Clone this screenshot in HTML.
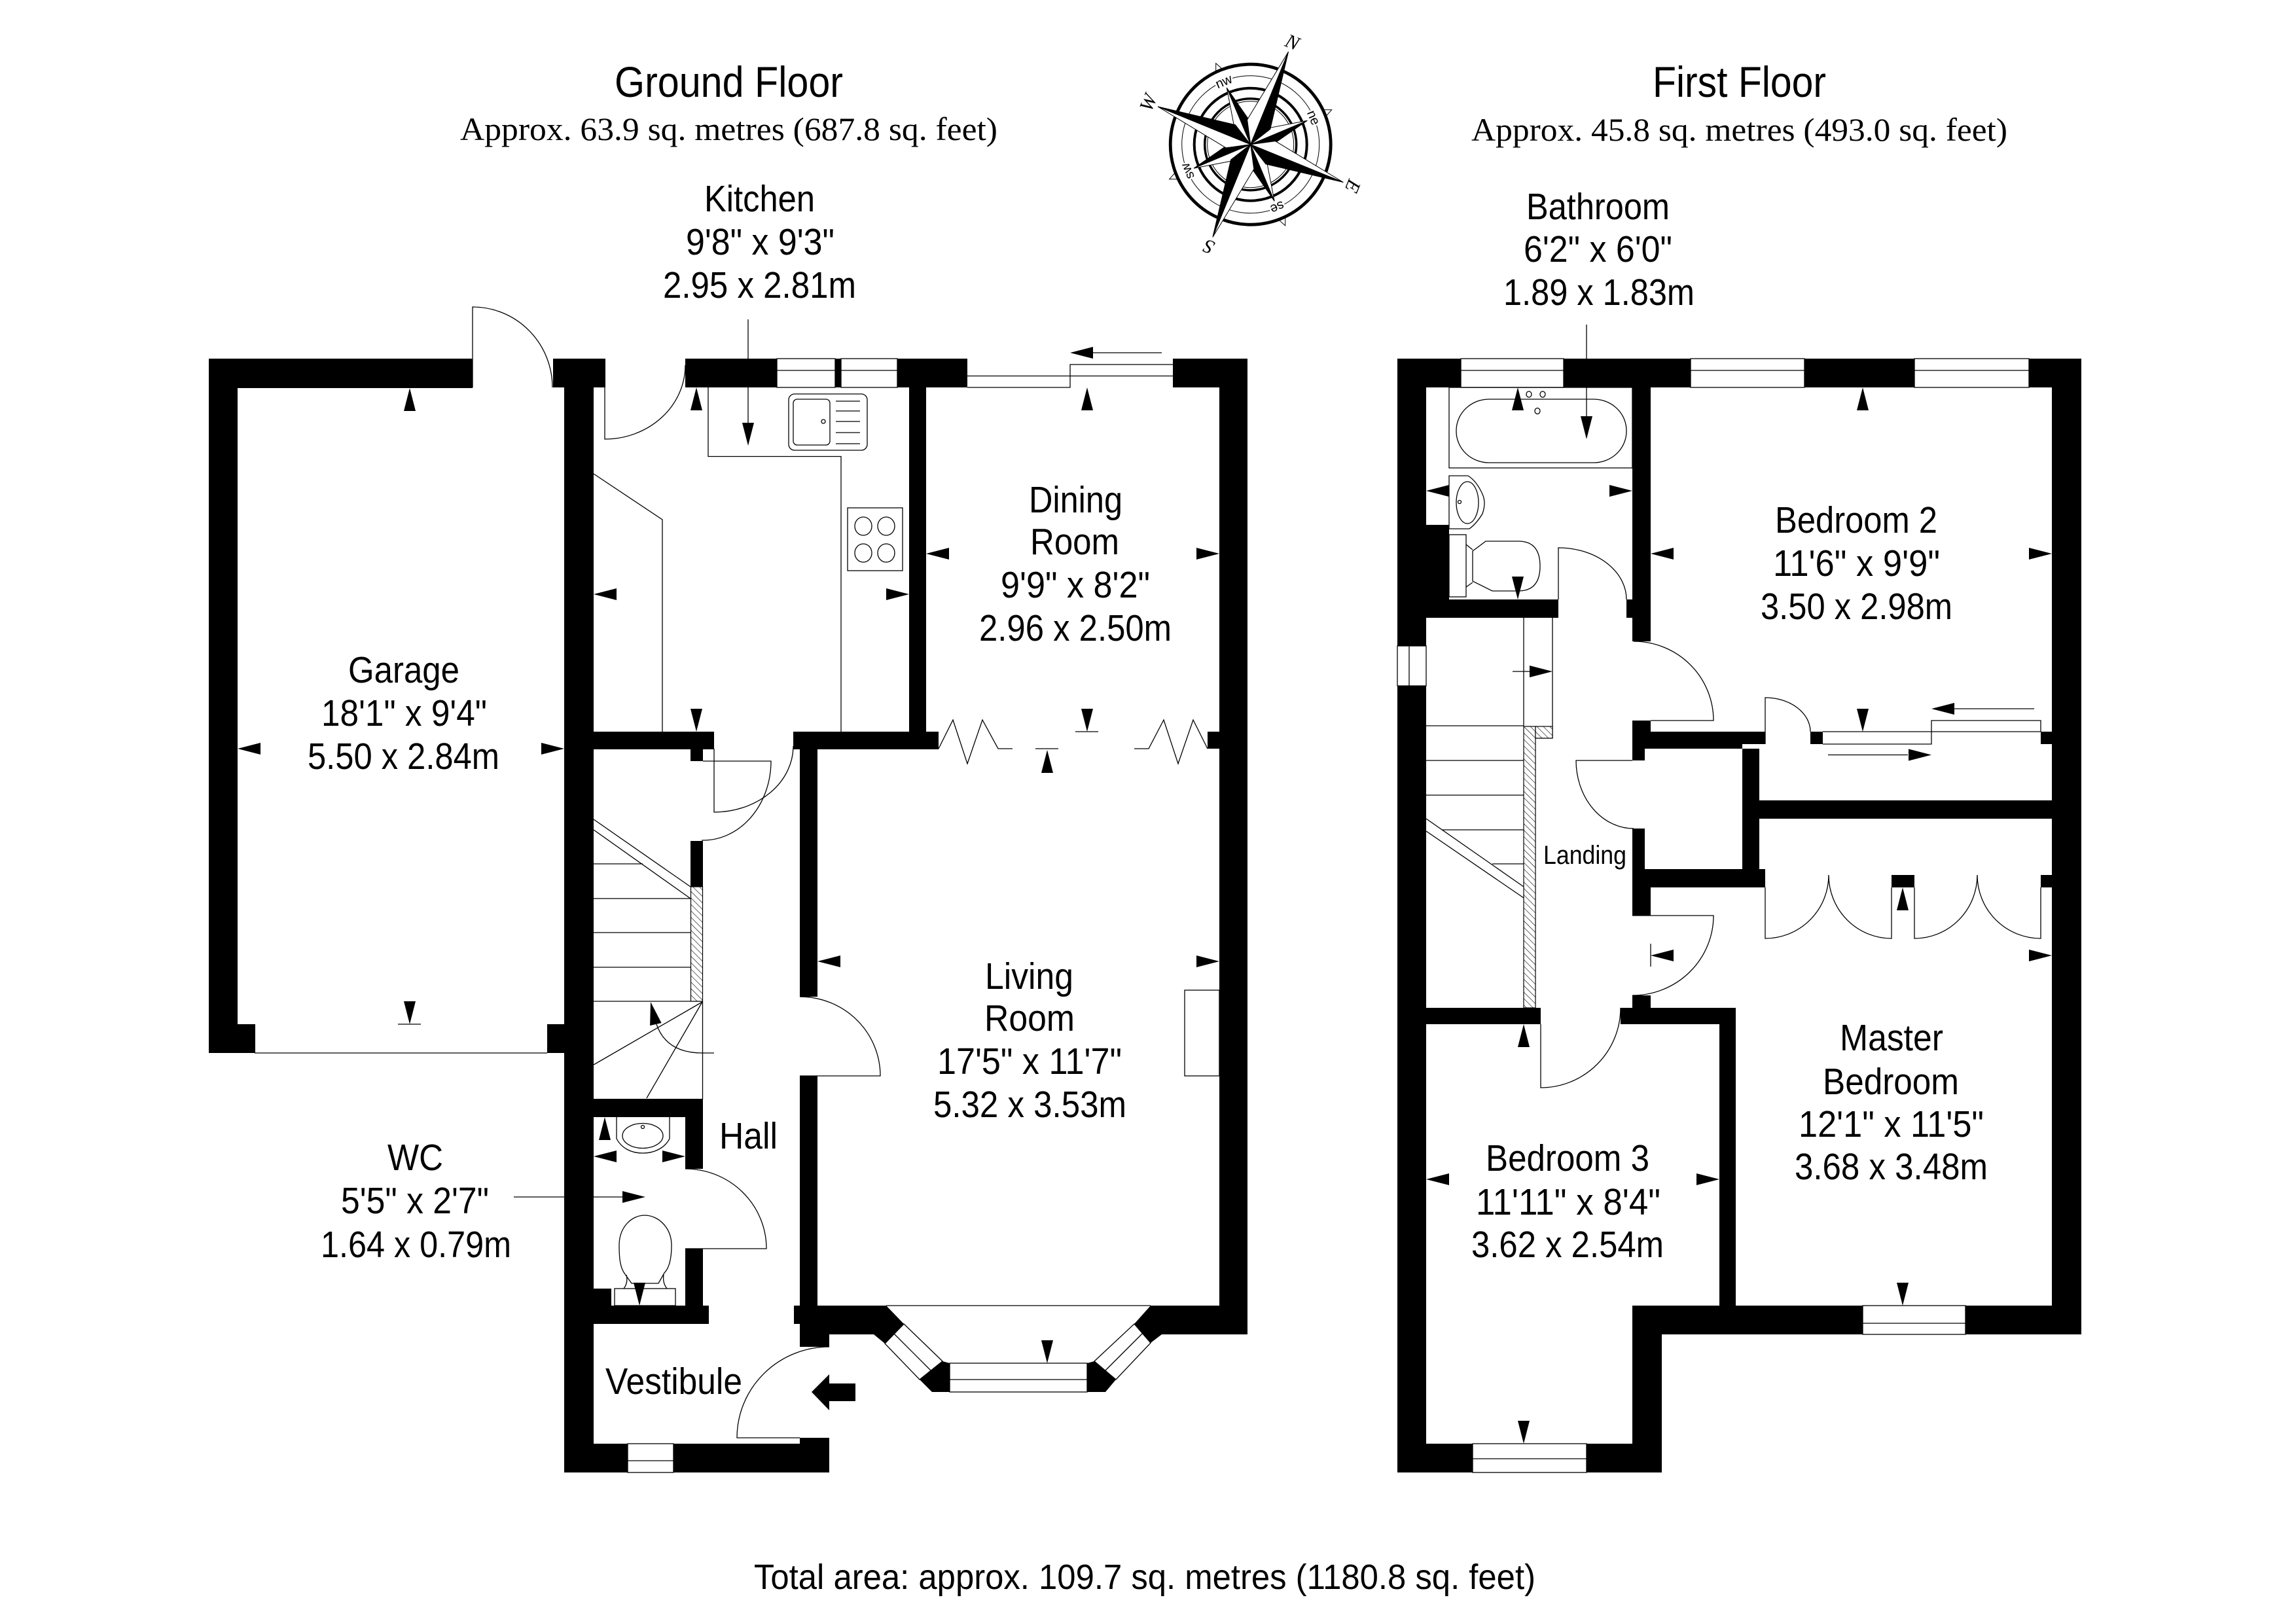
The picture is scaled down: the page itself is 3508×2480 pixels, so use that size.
<!DOCTYPE html>
<html><head><meta charset="utf-8"><title>Floor plan</title>
<style>
html,body{margin:0;padding:0;background:#fff}
svg{display:block}
.t{font-family:"Liberation Sans",Arial,sans-serif;font-size:57px;fill:#000}
.s{font-family:"Liberation Serif","Times New Roman",serif;font-size:50px;fill:#000}
.l{fill:none;stroke:#000;stroke-width:1.3}
.win{fill:#fff;stroke:#000;stroke-width:1.3}
</style></head><body>
<svg xmlns="http://www.w3.org/2000/svg" width="3508" height="2480" viewBox="0 0 3508 2480">
<defs>
<path id="a" d="M0,0L9,35H-9Z" fill="#000"/>
<pattern id="h" width="7" height="7" patternUnits="userSpaceOnUse" patternTransform="rotate(-45)"><rect width="7" height="7" fill="#fff"/><line x1="0" y1="0" x2="0" y2="7" stroke="#000" stroke-width="1.2"/></pattern>
</defs>
<rect width="3508" height="2480" fill="#fff"/>

<!-- GROUND FLOOR WALLS -->
<g fill="#000">
<rect x="319" y="548" width="403" height="45"/>
<rect x="319" y="548" width="44" height="1017"/>
<rect x="319" y="1565" width="71" height="44"/>
<rect x="845" y="548" width="80" height="44"/>
<rect x="862" y="592" width="45" height="1658"/>
<rect x="836" y="1565" width="26" height="44"/>
<rect x="1047" y="548" width="140" height="44"/>
<rect x="1276" y="548" width="9" height="44"/>
<rect x="1371" y="548" width="107" height="44"/>
<rect x="1389" y="592" width="26" height="526"/>
<rect x="1792" y="548" width="114" height="44"/>
<rect x="1863" y="548" width="43" height="1491"/>
<rect x="907" y="1118" width="184" height="27"/>
<rect x="1055" y="1144" width="19" height="19"/>
<rect x="1212" y="1118" width="222" height="27"/>
<rect x="1222" y="1144" width="27" height="379"/>
<rect x="1222" y="1644" width="27" height="414"/>
<rect x="1845" y="1118" width="18" height="26"/>
<rect x="1055" y="1285" width="19" height="70"/>
<rect x="907" y="1679" width="167" height="28"/>
<rect x="1047" y="1707" width="27" height="79"/>
<rect x="1047" y="1908" width="27" height="87"/>
<rect x="907" y="1995" width="176" height="28"/>
<rect x="907" y="1969" width="27" height="26"/>
<rect x="1213" y="1995" width="9" height="28"/>
<rect x="862" y="2206" width="405" height="44"/>
<rect x="1222" y="2197" width="45" height="9"/>
<polygon points="1249,1995 1354,1995 1381,2023 1352,2053 1335,2039 1267,2039 1267,2058 1249,2058"/>
<polygon points="1440,2080 1451,2083 1451,2127 1424,2127 1405,2108"/>
<polygon points="1661,2083 1672,2080 1705,2108 1689,2127 1661,2127"/>
<polygon points="1733,2023 1758,1995 1906,1995 1906,2039 1775,2039 1758,2052"/>
</g>
<!-- ground windows -->
<rect class="win" x="1187" y="548" width="89" height="44"/><line class="l" x1="1187" y1="566" x2="1276" y2="566"/>
<rect class="win" x="1285" y="548" width="86" height="44"/><line class="l" x1="1285" y1="566" x2="1371" y2="566"/>
<rect class="win" x="959" y="2206" width="70" height="44"/><line class="l" x1="959" y1="2232" x2="1029" y2="2232"/>
<rect class="win" x="1451" y="2083" width="210" height="44"/><line class="l" x1="1451" y1="2108" x2="1661" y2="2108"/>
<polygon class="win" points="1381,2023 1440,2080 1405,2108 1352,2053"/><line class="l" x1="1366" y1="2038" x2="1422" y2="2094"/>
<polygon class="win" points="1672,2080 1733,2023 1758,2052 1705,2108"/><line class="l" x1="1689" y1="2094" x2="1745" y2="2038"/>
<line class="l" x1="1354" y1="1995" x2="1758" y2="1995"/>
<path class="l" d="M1478,592H1635V557H1792M1478,574.5H1792"/>
<line class="l" x1="389" y1="1609" x2="836" y2="1609"/>

<!-- ground doors and fittings -->
<path class="l" d="M722,592V469A122,123 0 0 1 844,592"/>
<path class="l" d="M924,592V671A123,113 0 0 0 1047,558"/>
<path class="l" d="M1091,1144V1241A121,101 0 0 0 1212,1140"/>
<path class="l" d="M1074,1163H1178A104,121 0 0 1 1072,1284"/>
<path class="l" d="M1222,1523A123,121 0 0 1 1345,1644H1222"/>
<path class="l" d="M1047,1786A124,122 0 0 1 1171,1908H1047"/>
<path class="l" d="M1267,2058A141,139 0 0 0 1126,2197H1222"/>
<path class="l" d="M1082,592V697.5H1285V1118"/>
<path class="l" d="M907,724L1012,794V1118"/>
<rect x="1810" y="1513" width="53" height="131" class="l"/>
<path class="l" d="M1434,1144L1456,1100L1478,1167L1501,1100L1525,1144H1547"/>
<path class="l" d="M1733,1144H1755L1778,1100L1800,1167L1823,1100L1845,1144"/>
<!-- sink -->
<rect class="l" x="1205" y="602" width="120" height="86" rx="9"/>
<rect class="l" x="1212" y="610" width="56" height="70" rx="6"/>
<path class="l" d="M1277,613H1314M1277,628H1314M1277,644H1314M1277,661H1314M1277,678H1314"/>
<circle class="l" cx="1258" cy="644" r="3"/>
<!-- hob -->
<rect class="l" x="1295" y="776" width="84" height="96"/>
<ellipse class="l" cx="1319" cy="804" rx="13" ry="14"/><ellipse class="l" cx="1354" cy="804" rx="13" ry="14"/>
<ellipse class="l" cx="1319" cy="845" rx="13" ry="14"/><ellipse class="l" cx="1354" cy="845" rx="13" ry="14"/>
<!-- stairs -->
<path class="l" d="M907,1320H982M907,1373H1055M907,1425H1055M907,1478H1055M907,1530H1073M907,1252L1055,1355M907,1268L1055,1373M1073.5,1530V1680M1073,1531L907,1627M1073,1531L988,1678M1003,1565Q1018,1609 1073,1609H1091"/>
<rect x="1055.5" y="1355" width="18" height="175" fill="url(#h)" stroke="#000" stroke-width="1.2"/>
<!-- WC -->
<rect class="l" x="939" y="1969" width="93" height="26"/>
<path class="l" d="M985,1857C1005,1857 1026,1875 1026,1903C1026,1925 1022,1938 1015,1945L1006,1961H965L955,1947C948,1938 946,1925 946,1903C946,1875 965,1857 985,1857Z"/>
<path class="l" d="M957,1948Q960,1960 953,1969M1014,1948Q1012,1960 1019,1969"/>
<path class="l" d="M942,1707V1740C950,1755 965,1762 982,1762C999,1762 1015,1755 1023,1740V1707"/>
<ellipse class="l" cx="982" cy="1735.5" rx="31" ry="19"/><circle class="l" cx="982" cy="1722" r="2.5"/>

<!-- entry arrow -->
<polygon fill="#000" points="1240,2127 1267,2100 1267,2114 1307,2114 1307,2141 1267,2141 1267,2155"/>

<!-- ground arrows -->
<use href="#a" transform="translate(626,593)"/>
<use href="#a" transform="translate(626,1565) rotate(180)"/><line class="l" x1="608" y1="1565" x2="643" y2="1565"/>
<use href="#a" transform="translate(363,1144) rotate(-90)"/>
<use href="#a" transform="translate(862,1144) rotate(90)"/>
<use href="#a" transform="translate(1064,592)"/>
<use href="#a" transform="translate(1143,681) rotate(180)"/>
<path class="l" d="M1143,488V548M1143,592V646"/>
<use href="#a" transform="translate(907,908) rotate(-90)"/>
<use href="#a" transform="translate(1389,908) rotate(90)"/>
<use href="#a" transform="translate(1064,1118) rotate(180)"/>
<use href="#a" transform="translate(1661,592)"/>
<use href="#a" transform="translate(1661,1118) rotate(180)"/><line class="l" x1="1643" y1="1118" x2="1678" y2="1118"/>
<use href="#a" transform="translate(1415,846) rotate(-90)"/>
<use href="#a" transform="translate(1863,846) rotate(90)"/>
<use href="#a" transform="translate(1600,1146)"/><line class="l" x1="1582" y1="1144" x2="1617" y2="1144"/>
<use href="#a" transform="translate(1635,539) rotate(-90)"/><line class="l" x1="1670" y1="539" x2="1775" y2="539"/>
<use href="#a" transform="translate(1249,1469) rotate(-90)"/>
<use href="#a" transform="translate(1863,1469) rotate(90)"/>
<use href="#a" transform="translate(1600,2083) rotate(180)"/>
<use href="#a" transform="translate(994,1531) rotate(-13)"/>
<use href="#a" transform="translate(924,1707)"/>
<use href="#a" transform="translate(907,1767) rotate(-90)"/>
<use href="#a" transform="translate(1047,1767) rotate(90)"/>
<use href="#a" transform="translate(977,1995) rotate(180)"/>
<use href="#a" transform="translate(986,1829) rotate(90)"/>
<path class="l" d="M785,1829H862M907,1829H951"/>

<!-- FIRST FLOOR WALLS -->
<g fill="#000">
<rect x="2135" y="548" width="44" height="1702"/>
<rect x="2135" y="548" width="97" height="44"/>
<rect x="2389" y="548" width="194" height="44"/>
<rect x="2757" y="548" width="168" height="44"/>
<rect x="3100" y="548" width="80" height="44"/>
<rect x="3135" y="548" width="45" height="1491"/>
<rect x="2494" y="592" width="28" height="388"/>
<rect x="2179" y="802" width="35" height="114"/>
<rect x="2179" y="916" width="202" height="28"/>
<rect x="2485" y="916" width="9" height="28"/>
<rect x="2494" y="1101" width="28" height="17"/>
<rect x="2494" y="1118" width="168" height="26"/>
<rect x="2662" y="1118" width="35" height="19"/>
<rect x="2494" y="1144" width="19" height="18"/>
<rect x="2494" y="1266" width="19" height="62"/>
<rect x="2494" y="1328" width="203" height="28"/>
<rect x="2494" y="1356" width="28" height="43"/>
<rect x="2662" y="1144" width="26" height="184"/>
<rect x="2662" y="1223" width="473" height="28"/>
<rect x="2766" y="1118" width="19" height="19"/>
<rect x="3118" y="1118" width="17" height="19"/>
<rect x="2890" y="1337" width="35" height="19"/>
<rect x="3118" y="1337" width="17" height="19"/>
<rect x="2494" y="1521" width="28" height="19"/>
<rect x="2179" y="1540" width="175" height="25"/>
<rect x="2476" y="1540" width="176" height="25"/>
<rect x="2627" y="1565" width="25" height="430"/>
<rect x="2494" y="1995" width="686" height="44"/>
<rect x="2494" y="1995" width="45" height="255"/>
<rect x="2135" y="2206" width="404" height="44"/>
</g>
<!-- first windows -->
<rect class="win" x="2232" y="548" width="157" height="44"/><line class="l" x1="2232" y1="566" x2="2389" y2="566"/>
<rect class="win" x="2583" y="548" width="174" height="44"/><line class="l" x1="2583" y1="566" x2="2757" y2="566"/>
<rect class="win" x="2925" y="548" width="175" height="44"/><line class="l" x1="2925" y1="566" x2="3100" y2="566"/>
<rect class="win" x="2135" y="987" width="44" height="61"/><line class="l" x1="2153" y1="987" x2="2153" y2="1048"/>
<rect class="win" x="2846" y="1995" width="157" height="44"/><line class="l" x1="2846" y1="2022" x2="3003" y2="2022"/>
<rect class="win" x="2250" y="2206" width="174" height="44"/><line class="l" x1="2250" y1="2229" x2="2424" y2="2229"/>

<!-- first doors -->
<path class="l" d="M2381,916V837A104,79 0 0 1 2485,916"/>
<path class="l" d="M2496,980A122,121 0 0 1 2618,1101H2522"/>
<path class="l" d="M2494,1162H2408A88,104 0 0 0 2496,1266"/>
<path class="l" d="M2494,1399H2618A124,122 0 0 1 2494,1521"/>
<path class="l" d="M2354,1565V1662A122,122 0 0 0 2476,1540"/>
<path class="l" d="M2697,1137V1066A69,52 0 0 1 2766,1118"/>
<path class="l" d="M2697,1356V1434A97,97 0 0 0 2794,1337A96,97 0 0 0 2890,1434V1356"/>
<path class="l" d="M2925,1356V1434A96,97 0 0 0 3021,1337A97,97 0 0 0 3118,1434V1356"/>
<path class="l" d="M2785,1118H3118M2785,1137H2951V1101H3118V1118"/>
<!-- bath -->
<rect class="l" x="2214" y="592" width="280" height="123"/>
<rect class="l" x="2225" y="610" width="260" height="97" rx="50" ry="48"/>
<ellipse class="l" cx="2336" cy="602.5" rx="4" ry="4.5"/><ellipse class="l" cx="2357" cy="602.5" rx="4" ry="4.5"/><ellipse class="l" cx="2349" cy="628" rx="4" ry="4.5"/>
<path class="l" d="M2214,727H2243Q2256,735 2265,755Q2271,768 2265,785Q2256,800 2245,808H2214Z"/>
<ellipse class="l" cx="2242" cy="768" rx="17" ry="32"/><circle class="l" cx="2230" cy="767" r="2.5"/>
<rect class="l" x="2214" y="817" width="26" height="95"/>
<path class="l" d="M2250,842L2270,827H2320Q2353,827 2353,865Q2353,903 2320,903H2280L2250,888ZM2240,832L2250,840M2240,897L2250,890"/>
<!-- first stairs -->
<path class="l" d="M2328,944V1109M2372,944V1128H2346M2179,1109H2328M2179,1162H2328M2179,1215H2328M2203,1268H2328M2280,1320H2328M2179,1251L2328,1355M2179,1270L2328,1372"/>
<rect x="2328" y="1110" width="18" height="430" fill="url(#h)" stroke="#000" stroke-width="1.2"/>
<rect x="2346" y="1110" width="26" height="18" fill="url(#h)" stroke="#000" stroke-width="1.2"/>
<!-- first arrows -->
<use href="#a" transform="translate(2319,592)"/>
<use href="#a" transform="translate(2424,671) rotate(180)"/><path class="l" d="M2424,496V548M2424,592V636"/>
<use href="#a" transform="translate(2179,750) rotate(-90)"/>
<use href="#a" transform="translate(2494,750) rotate(90)"/>
<use href="#a" transform="translate(2319,916) rotate(180)"/>
<use href="#a" transform="translate(2846,592)"/>
<use href="#a" transform="translate(2522,846) rotate(-90)"/>
<use href="#a" transform="translate(3135,846) rotate(90)"/>
<use href="#a" transform="translate(2846,1118) rotate(180)"/>
<use href="#a" transform="translate(2951,1083) rotate(-90)"/><line class="l" x1="2986" y1="1083" x2="3108" y2="1083"/>
<use href="#a" transform="translate(2951,1153.5) rotate(90)"/><line class="l" x1="2793" y1="1153.5" x2="2915" y2="1153.5"/>
<use href="#a" transform="translate(2372,1026) rotate(90)"/><line class="l" x1="2311" y1="1026" x2="2337" y2="1026"/>
<use href="#a" transform="translate(2907,1356)"/>
<use href="#a" transform="translate(3135,1460) rotate(90)"/>
<use href="#a" transform="translate(2522,1460) rotate(-90)"/><line class="l" x1="2522" y1="1442" x2="2522" y2="1477"/>
<use href="#a" transform="translate(2907,1995) rotate(180)"/>
<use href="#a" transform="translate(2328,1565)"/>
<use href="#a" transform="translate(2179,1802) rotate(-90)"/>
<use href="#a" transform="translate(2627,1802) rotate(90)"/>
<use href="#a" transform="translate(2328,2206) rotate(180)"/>

<!-- COMPASS -->
<g transform="translate(1910.7,220.7)">
<g fill="#fff" stroke="#000" stroke-width="1">
<polygon points="-53,-124 -44,-116 -53,-112"/>
<polygon transform="rotate(90)" points="-53,-124 -44,-116 -53,-112"/>
<polygon transform="rotate(180)" points="-53,-124 -44,-116 -53,-112"/>
<polygon transform="rotate(270)" points="-53,-124 -44,-116 -53,-112"/>
</g>
<g fill="none" stroke="#000">
<circle r="122.5" stroke-width="4.8"/>
<circle r="105" stroke-width="1"/>
<circle r="86" stroke-width="4"/>
<circle r="70" stroke-width="3.5"/>
<circle r="66" stroke-width="1"/>
</g>
<g font-family="'Liberation Sans',Arial,sans-serif" font-size="20" text-anchor="middle" fill="#000" stroke="#fff" stroke-width="5" paint-order="stroke">
<text transform="rotate(-23)" y="-98">nw</text>
<text transform="rotate(67)" y="-98">ne</text>
<text transform="rotate(157)" y="-98">se</text>
<text transform="rotate(247)" y="-98">sw</text>
</g>
<g stroke="#000" stroke-width="1" stroke-linejoin="miter">
<g transform="rotate(-22.8)"><polygon fill="#fff" points="0,0 0,-94 -12,-37"/><polygon fill="#000" points="0,0 0,-94 12,-37"/></g>
<g transform="rotate(67.2)"><polygon fill="#fff" points="0,0 0,-94 -12,-37"/><polygon fill="#000" points="0,0 0,-94 12,-37"/></g>
<g transform="rotate(157.2)"><polygon fill="#fff" points="0,0 0,-94 -12,-37"/><polygon fill="#000" points="0,0 0,-94 12,-37"/></g>
<g transform="rotate(247.2)"><polygon fill="#fff" points="0,0 0,-94 -12,-37"/><polygon fill="#000" points="0,0 0,-94 12,-37"/></g>
<g transform="rotate(22.2)"><polygon fill="#fff" points="0,0 0,-153 -19,-33"/><polygon fill="#000" points="0,0 0,-153 19,-33"/></g>
<g transform="rotate(112.2)"><polygon fill="#fff" points="0,0 0,-153 -19,-33"/><polygon fill="#000" points="0,0 0,-153 19,-33"/></g>
<g transform="rotate(202.2)"><polygon fill="#fff" points="0,0 0,-153 -19,-33"/><polygon fill="#000" points="0,0 0,-153 19,-33"/></g>
<g transform="rotate(292.2)"><polygon fill="#fff" points="0,0 0,-153 -19,-33"/><polygon fill="#000" points="0,0 0,-153 19,-33"/></g>
</g>
<g font-family="'Liberation Serif','Times New Roman',serif" font-style="italic" font-size="30" text-anchor="middle" fill="#000">
<text transform="rotate(22.2)" y="-159">N</text>
<text transform="rotate(112.2)" y="-159">E</text>
<text transform="rotate(202.2)" y="-159">S</text>
<text transform="rotate(292.2)" y="-159">W</text>
</g>
</g>

<!-- TEXT -->
<g>
<text class="t" style="font-size:66px" x="939" y="148" textLength="349" lengthAdjust="spacingAndGlyphs">Ground Floor</text>
<text class="t" style="font-size:66px" x="2525" y="148" textLength="265" lengthAdjust="spacingAndGlyphs">First Floor</text>
<text class="s" x="703" y="214" textLength="821" lengthAdjust="spacingAndGlyphs">Approx. 63.9 sq. metres (687.8 sq. feet)</text>
<text class="s" x="2248" y="215" textLength="819" lengthAdjust="spacingAndGlyphs">Approx. 45.8 sq. metres (493.0 sq. feet)</text>
<text class="t" style="font-size:54px" x="1152" y="2428" textLength="1194" lengthAdjust="spacingAndGlyphs">Total area: approx. 109.7 sq. metres (1180.8 sq. feet)</text>

<text class="t" x="1076" y="323" textLength="169" lengthAdjust="spacingAndGlyphs">Kitchen</text>
<text class="t" x="1048" y="389" textLength="227" lengthAdjust="spacingAndGlyphs">9'8&quot; x 9'3&quot;</text>
<text class="t" x="1013" y="455" textLength="295" lengthAdjust="spacingAndGlyphs">2.95 x 2.81m</text>

<text class="t" x="1572" y="783" textLength="143" lengthAdjust="spacingAndGlyphs">Dining</text>
<text class="t" x="1574" y="847" textLength="136" lengthAdjust="spacingAndGlyphs">Room</text>
<text class="t" x="1529" y="913" textLength="228" lengthAdjust="spacingAndGlyphs">9'9&quot; x 8'2&quot;</text>
<text class="t" x="1496" y="979" textLength="294" lengthAdjust="spacingAndGlyphs">2.96 x 2.50m</text>

<text class="t" x="532" y="1043" textLength="170" lengthAdjust="spacingAndGlyphs">Garage</text>
<text class="t" x="491" y="1109" textLength="253" lengthAdjust="spacingAndGlyphs">18'1&quot; x 9'4&quot;</text>
<text class="t" x="470" y="1175" textLength="293" lengthAdjust="spacingAndGlyphs">5.50 x 2.84m</text>

<text class="t" x="1505" y="1511" textLength="135" lengthAdjust="spacingAndGlyphs">Living</text>
<text class="t" x="1504" y="1575" textLength="138" lengthAdjust="spacingAndGlyphs">Room</text>
<text class="t" x="1432" y="1641" textLength="282" lengthAdjust="spacingAndGlyphs">17'5&quot; x 11'7&quot;</text>
<text class="t" x="1426" y="1707" textLength="295" lengthAdjust="spacingAndGlyphs">5.32 x 3.53m</text>

<text class="t" x="1099" y="1755" textLength="89" lengthAdjust="spacingAndGlyphs">Hall</text>
<text class="t" x="925" y="2130" textLength="209" lengthAdjust="spacingAndGlyphs">Vestibule</text>

<text class="t" x="592" y="1788" textLength="85" lengthAdjust="spacingAndGlyphs">WC</text>
<text class="t" x="521" y="1854" textLength="226" lengthAdjust="spacingAndGlyphs">5'5&quot; x 2'7&quot;</text>
<text class="t" x="490" y="1921" textLength="291" lengthAdjust="spacingAndGlyphs">1.64 x 0.79m</text>

<text class="t" x="2332" y="335" textLength="219" lengthAdjust="spacingAndGlyphs">Bathroom</text>
<text class="t" x="2328" y="400" textLength="227" lengthAdjust="spacingAndGlyphs">6'2&quot; x 6'0&quot;</text>
<text class="t" x="2297" y="466" textLength="292" lengthAdjust="spacingAndGlyphs">1.89 x 1.83m</text>

<text class="t" x="2712" y="814" textLength="248" lengthAdjust="spacingAndGlyphs">Bedroom 2</text>
<text class="t" x="2709" y="880" textLength="255" lengthAdjust="spacingAndGlyphs">11'6&quot; x 9'9&quot;</text>
<text class="t" x="2690" y="946" textLength="293" lengthAdjust="spacingAndGlyphs">3.50 x 2.98m</text>

<text class="t" style="font-size:40px" x="2358" y="1320" textLength="127" lengthAdjust="spacingAndGlyphs">Landing</text>

<text class="t" x="2811" y="1605" textLength="158" lengthAdjust="spacingAndGlyphs">Master</text>
<text class="t" x="2785" y="1672" textLength="208" lengthAdjust="spacingAndGlyphs">Bedroom</text>
<text class="t" x="2748" y="1737" textLength="283" lengthAdjust="spacingAndGlyphs">12'1&quot; x 11'5&quot;</text>
<text class="t" x="2742" y="1802" textLength="295" lengthAdjust="spacingAndGlyphs">3.68 x 3.48m</text>

<text class="t" x="2270" y="1789" textLength="250" lengthAdjust="spacingAndGlyphs">Bedroom 3</text>
<text class="t" x="2255" y="1856" textLength="282" lengthAdjust="spacingAndGlyphs">11'11&quot; x 8'4&quot;</text>
<text class="t" x="2248" y="1921" textLength="294" lengthAdjust="spacingAndGlyphs">3.62 x 2.54m</text>
</g>
</svg>
</body></html>
